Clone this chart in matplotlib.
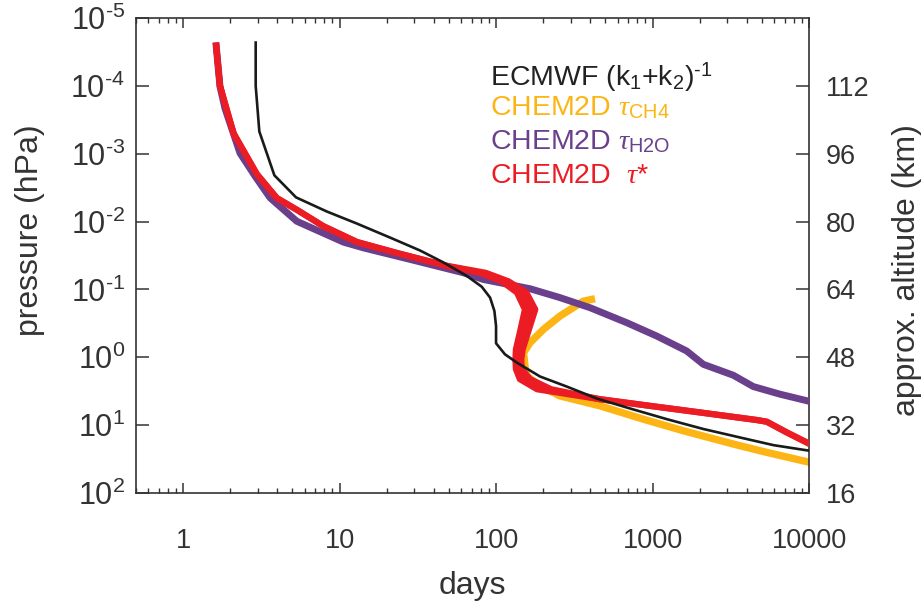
import matplotlib
matplotlib.use("Agg")
import matplotlib.pyplot as plt
import numpy as np
from matplotlib.ticker import FixedLocator, FixedFormatter, NullLocator, LogLocator, NullFormatter

plt.rcParams['font.family'] = ['Liberation Sans', 'DejaVu Sans']
plt.rcParams['mathtext.fontset'] = 'custom'
plt.rcParams['mathtext.rm'] = 'Liberation Sans'
plt.rcParams['mathtext.it'] = 'Liberation Serif:italic'
plt.rcParams['mathtext.bf'] = 'Liberation Sans:bold'

HY = '\u2010'  # short hyphen used in exponents

# ---------------- data (days vs pressure hPa) ----------------
ecmwf_days = [2.91, 2.91, 3.07, 3.83, 5.27, 8.28, 12.9, 21.0, 32.7, 45.8, 65.0, 81.0,
              91.6, 97.6, 100, 100, 114, 136, 191, 283, 440, 718, 1233, 2113, 3625,
              5918, 10150]
ecmwf_p = [2.3e-5, 1.0e-4, 4.7e-4, 2.08e-3, 4.4e-3, 7.1e-3, 0.0107, 0.0172, 0.0267,
           0.0397, 0.0632, 0.0912, 0.132, 0.208, 0.347, 0.622, 0.904, 1.20, 1.92,
           2.70, 4.05, 5.68, 8.16, 11.4, 15.2, 19.7, 23.9]

h2o_days = [1.62, 1.72, 1.85, 2.31, 2.89, 3.60, 5.33, 10.6, 14.2, 29.6, 61.8, 83.0,
            165, 256, 399, 684, 1063, 1652, 2112, 3284, 4405, 6530, 10140]
h2o_p = [2.3e-5, 1.02e-4, 2.13e-4, 9.8e-4, 2.16e-3, 4.48e-3, 9.9e-3, 0.0201, 0.0244,
         0.0371, 0.0568, 0.0713, 0.0977, 0.132, 0.186, 0.309, 0.486, 0.807, 1.27,
         1.84, 2.70, 3.50, 4.48]

ch4_days = [429, 361, 328, 256, 201, 165, 150, 153, 157, 191, 256, 462, 873, 1573,
            3284, 5370, 10140]
ch4_p = [0.137, 0.149, 0.172, 0.247, 0.387, 0.608, 0.853, 1.34, 1.88, 2.64, 3.71,
         5.2, 8.17, 12.1, 19.0, 25.2, 35.4]

star_p = [2.3e-5, 1.0e-4, 5.0e-4, 2.0e-3, 4.5e-3, 6.7e-3, 0.0117, 0.020, 0.029, 0.045,
          0.057, 0.076, 0.111, 0.197, 0.43, 0.76, 1.07, 1.5, 2.1, 2.96, 4.15, 5.2,
          6.5, 8.4, 8.9, 12.8, 19.0]
star_days_lo = [1.62, 1.72, 2.10, 2.96, 3.97, 5.33, 7.88, 12.9, 23.2, 48, 79, 109, 136,
                153, 142, 134, 133, 134, 142, 183, 462, 964, 2012, 4632, 5370, 7210, 10140]
star_days_hi = [1.62, 1.72, 2.10, 2.96, 3.97, 5.33, 7.88, 12.9, 23.2, 49, 86, 120, 156,
                178, 160, 148, 145, 146, 165, 225, 462, 964, 2012, 4632, 5370, 7210, 10140]

p_ticks = [1e-5, 1e-4, 1e-3, 1e-2, 1e-1, 1e0, 1e1, 1e2]
p_exponents = [HY + '5', HY + '4', HY + '3', HY + '2', HY + '1', '0', '1', '2']
alt_ticks = [1e-4, 1e-3, 1e-2, 1e-1, 1e0, 1e1, 1e2]
alt_labels = ['112', '96', '80', '64', '48', '32', '16']
day_ticks = [1, 10, 100, 1000, 10000]
day_labels = ['1', '10', '100', '1000', '10000']

# colours
c_black = '#1a1a1a'
c_orange = '#FDB515'
c_purple = '#6A3F8C'
c_red = '#EC1C24'
c_axis = '#333333'

fig = plt.figure(figsize=(9.21, 6.01), dpi=100)
ax = fig.add_axes([136/921, 1-493/601, 673/921, 475/601])

ax.plot(ch4_days, ch4_p, color=c_orange, lw=5.3, solid_capstyle='butt', zorder=2)
ax.plot(h2o_days, h2o_p, color=c_purple, lw=5.0, solid_capstyle='butt', zorder=3)
ax.fill_betweenx(star_p, star_days_lo, star_days_hi, color=c_red, lw=0, zorder=4)
ax.plot(star_days_lo, star_p, color=c_red, lw=4.5, solid_capstyle='butt', zorder=4)
ax.plot(star_days_hi, star_p, color=c_red, lw=4.5, solid_capstyle='butt', zorder=4)
ax.plot(ecmwf_days, ecmwf_p, color=c_black, lw=1.9, zorder=5)

ax.set_xscale('log')
ax.set_yscale('log')
ax.set_xlim(0.5, 10000)
ax.set_ylim(1e2, 1e-5)

ax.xaxis.set_major_locator(FixedLocator(day_ticks))
ax.xaxis.set_major_formatter(FixedFormatter(day_labels))
ax.xaxis.set_minor_locator(LogLocator(base=10, subs=np.arange(2, 10), numticks=20))
ax.xaxis.set_minor_formatter(NullFormatter())

ax.yaxis.set_major_locator(FixedLocator(p_ticks))
ax.yaxis.set_major_formatter(FixedFormatter([r'$\mathregular{10^{%s}}$' % s for s in p_exponents]))
ax.yaxis.set_minor_locator(NullLocator())

ax.tick_params(axis='x', which='major', direction='in', top=True, length=7, width=1.1,
               color=c_axis, labelsize=19.5, labelcolor=c_axis, pad=25)
ax.tick_params(axis='x', which='minor', direction='in', top=True, length=3.5, width=1.0,
               color=c_axis)
ax.tick_params(axis='y', which='major', direction='in', right=False, length=9.5, width=1.1,
               color=c_axis, labelsize=22, labelcolor=c_axis, pad=8)

for s in ax.spines.values():
    s.set_color(c_axis)
    s.set_linewidth(1.2)

ax.set_xlabel('days', fontsize=23, color=c_axis)
ax.xaxis.set_label_coords(0.5, -0.165)
ax.set_ylabel('pressure (hPa)', fontsize=23, color=c_axis)
ax.yaxis.set_label_coords(-0.135, 0.553)

ax2 = ax.twinx()
ax2.set_yscale('log')
ax2.set_ylim(1e2, 1e-5)
ax2.yaxis.set_major_locator(FixedLocator(alt_ticks))
ax2.yaxis.set_major_formatter(FixedFormatter(alt_labels))
ax2.yaxis.set_minor_locator(NullLocator())
ax2.tick_params(axis='y', which='major', direction='in', length=9.5, width=1.1,
                color=c_axis, labelsize=19.5, labelcolor=c_axis, pad=12)
for s in ax2.spines.values():
    s.set_visible(False)
ax2.set_ylabel('approx. altitude (km)', fontsize=23, color=c_axis)
ax2.yaxis.set_label_coords(1.123, 0.469)

# legend as coloured text
lx = (490 - 136) / 673
ecmwf_label = r'ECMWF (k$_{\mathregular{1}}$+k$_{\mathregular{2}}$)$^{\mathregular{' + HY + r'1}}$'
ax.text(lx, (493 - 85) / 475, ecmwf_label,
        transform=ax.transAxes, color='#222222', fontsize=20.5, va='baseline', ha='left')
ax.text(lx, (493 - 115) / 475, r'CHEM2D $\tau_{\mathregular{CH4}}$',
        transform=ax.transAxes, color=c_orange, fontsize=20.5, va='baseline', ha='left')
ax.text(lx, (493 - 149) / 475, r'CHEM2D $\tau_{\mathregular{H2O}}$',
        transform=ax.transAxes, color=c_purple, fontsize=20.5, va='baseline', ha='left')
ax.text(lx, (493 - 183) / 475, r'CHEM2D  $\tau$*',
        transform=ax.transAxes, color=c_red, fontsize=20.5, va='baseline', ha='left')

fig.savefig('out.png', dpi=100)
